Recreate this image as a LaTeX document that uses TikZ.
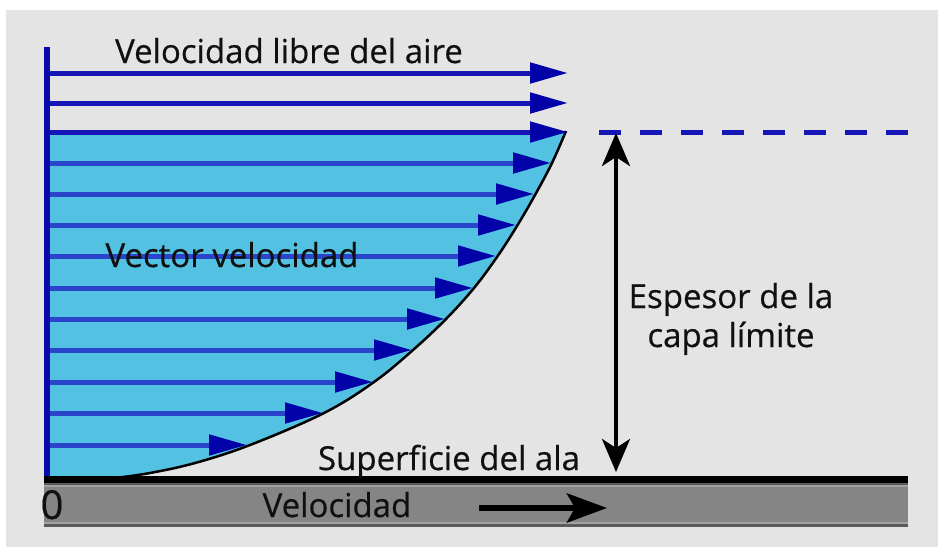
\documentclass[tikz,border=0pt]{standalone}
\usepackage{fontspec}
\setmainfont{Open Sans}
\newfontfamily\lblfont{Open Sans}[FakeBold=0.5]
\usetikzlibrary{arrows.meta}
\definecolor{bggray}{HTML}{E4E4E4}
\definecolor{skyfill}{HTML}{52C1E2}
\definecolor{rowblue}{HTML}{2A44CC}
\definecolor{topblue}{HTML}{1616B6}
\definecolor{headblue}{HTML}{0202A8}
\definecolor{axisblue}{HTML}{0A0AAA}
\definecolor{barbody}{HTML}{858585}
\definecolor{barlight}{HTML}{A2A2A2}
\definecolor{bardark}{HTML}{5A5A5A}
\definecolor{inkblack}{HTML}{101010}
\tikzset{
  lbl/.style={font=\lblfont\fontsize{33}{40}\selectfont, text=inkblack, inner sep=0pt, anchor=base},
  rowline/.style={line width=5pt, rowblue, -{Triangle[length=38pt,width=20pt,color=headblue]}},
  topline/.style={line width=5pt, topblue, -{Triangle[length=38pt,width=20pt,color=headblue]}},
  thickarrow/.style={line width=4pt, black, {Stealth[length=33pt,width=28pt,inset=9pt]}-{Stealth[length=33pt,width=28pt,inset=9pt]}},
  velarrow/.style={line width=6pt, black, -{Stealth[length=40pt,width=29pt,inset=8pt]}},
}
\def\blcurve{(566,131) (552,163) (535,195) (517,226) (497,257) (474,288) (446,319) (413,350) (374,382) (324,413) (250,445) (195,463) (150,473) (115,478)}
\begin{document}
\begin{tikzpicture}[x=1pt,y=-1pt]
\useasboundingbox (0,0) rectangle (938,547);
\fill[white] (0,0) rectangle (938,547);
\fill[bggray] (6,10) rectangle (938,547);
% boundary layer fill
\fill[skyfill] (47,131) -- plot[smooth,tension=0.6] coordinates {\blcurve} -- (47,478) -- cycle;
\draw[line width=2.5pt, black] plot[smooth,tension=0.6] coordinates {\blcurve};
% velocity rows
\foreach \y/\t in {163/551, 194/534, 225/516, 256/496, 288/473, 319/445, 350/412, 382/373, 413/323, 445/247}
  \draw[rowline] (47,\y) -- (\t,\y);
\foreach \y in {73,103,132}
  \draw[topline] (47,\y) -- (568,\y);
% axis
\draw[line width=6pt, axisblue] (47,47) -- (47,478);
% dashed edge of boundary layer
\coordinate (dashA) at (599,132);
\coordinate (dashB) at (908,132);
\draw[line width=5pt, topblue, dash pattern=on 22pt off 19pt] (dashA) -- (dashB);
% wall and bar
\fill[black] (44,476) rectangle (908,483);
\fill[bardark] (44,483) rectangle (908,485);
\fill[barlight] (44,485) rectangle (908,487);
\fill[barbody] (44,487) rectangle (908,522);
\fill[barlight] (44,522) rectangle (908,524);
\fill[bardark] (44,524) rectangle (908,527);
% thickness arrow
\coordinate (thTop) at (616,133);
\coordinate (thBot) at (616,472);
\draw[thickarrow] (thTop) -- (thBot);
% velocity arrow in bar
\coordinate (vA) at (479,508);
\coordinate (vB) at (607,508);
\draw[velarrow] (vA) -- (vB);
% labels
\node[lbl] (free) at (289,63) {Velocidad libre del aire};
\node[lbl] (vec) at (232,267) {Vector velocidad};
\node[lbl] (esp1) at (731,308) {Espesor de la};
\node[lbl] (esp2) at (731,347) {capa límite};
\node[lbl] (surf) at (449,470) {Superficie del ala};
\node[lbl] (vel) at (337,517) {Velocidad};
\node[lbl, font=\lblfont\fontsize{40}{44}\selectfont] (zero) at (52,519) {0};
\end{tikzpicture}
\end{document}
